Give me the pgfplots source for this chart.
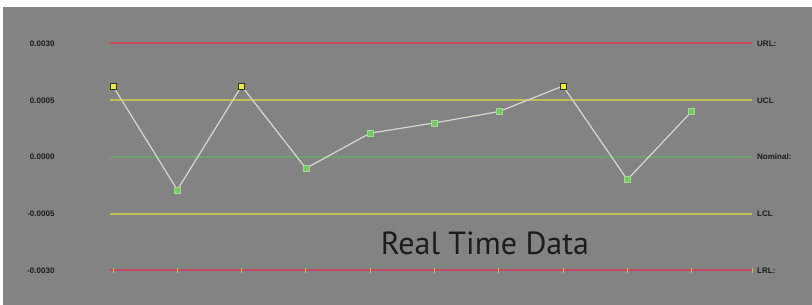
\documentclass[border=0pt]{standalone}
\usepackage{pgfplots}
\pgfplotsset{compat=1.18}
\usepackage{fontspec}
\setmainfont{Liberation Sans}
\newfontfamily\titlefont{PT Sans}
\definecolor{bg}{RGB}{131,131,131}
\definecolor{lim}{RGB}{200,75,95}
\definecolor{ctl}{RGB}{190,190,85}
\definecolor{nom}{RGB}{110,160,110}
\definecolor{ln}{RGB}{215,215,210}
\definecolor{gmark}{RGB}{120,200,100}
\definecolor{ymark}{RGB}{230,240,60}
\definecolor{mborder}{RGB}{50,50,20}
\definecolor{txt}{RGB}{28,28,28}
\begin{document}
\begin{tikzpicture}[x=1pt,y=1pt]
\useasboundingbox (0,0) rectangle (812,305);
\fill[white] (0,0) rectangle (812,305);
\fill[bg] (3,0) rectangle (812,298);
\begin{axis}[
  at={(110pt,11.8pt)}, anchor=south west,
  scale only axis, width=642pt, height=272.4pt,
  xmin=-0.047, xmax=9.94, ymin=-0.0012, ymax=0.0012,
  axis line style={draw=none},
  xtick=\empty,
  ytick={-0.001,-0.0005,0,0.0005,0.001},
  yticklabels={-0.0030,-0.0005,0.0000,0.0005,0.0030},
  major tick length=0pt,
  yticklabel style={font=\fontsize{8}{9}\selectfont\bfseries, text=txt, anchor=east, xshift=-52pt},
  clip=false,
  scaled y ticks=false,
]
% limit lines
\addplot[lim, line width=2pt] coordinates {(-0.047,0.001) (9.94,0.001)};
\addplot[lim, line width=2pt] coordinates {(-0.047,-0.001) (9.94,-0.001)};
\addplot[ctl, line width=1.6pt] coordinates {(-0.047,0.0005) (9.94,0.0005)};
\addplot[ctl, line width=1.6pt] coordinates {(-0.047,-0.0005) (9.94,-0.0005)};
\addplot[nom, line width=1.3pt] coordinates {(-0.047,0) (9.94,0)};
% small ticks on LRL
\addplot[only marks, mark=|, mark size=2.5pt, mark options={draw=ctl, line width=0.8pt}]
  coordinates {(0,-0.001) (1,-0.001) (2,-0.001) (3,-0.001) (4,-0.001) (5,-0.001) (6,-0.001) (7,-0.001) (8,-0.001) (9,-0.001) (9.94,-0.001)};
% data line
\addplot[ln, line width=1.2pt] coordinates {
 (0,0.000625) (1,-0.00029) (2,0.000625) (3,-0.0001) (4,0.00021)
 (5,0.0003) (6,0.0004) (7,0.000625) (8,-0.0002) (9,0.0004)};
\addplot[scatter, only marks, scatter src=explicit symbolic,
  scatter/classes={
    g={mark=square*, mark size=3pt, fill=gmark, draw=gmark!70!white},
    y={mark=square*, mark size=3pt, fill=ymark, draw=mborder, line width=0.9pt}}]
  table[meta=c] {
 x y c
 0 0.000625 y
 1 -0.00029 g
 2 0.000625 y
 3 -0.0001 g
 4 0.00021 g
 5 0.0003 g
 6 0.0004 g
 7 0.000625 y
 8 -0.0002 g
 9 0.0004 g
};
\node[anchor=west, font=\fontsize{8}{9}\selectfont\bfseries, text=txt, inner sep=0pt, xshift=5pt] at (axis cs:9.94,0.001) {URL:};
\node[anchor=west, font=\fontsize{8}{9}\selectfont\bfseries, text=txt, inner sep=0pt, xshift=5pt] at (axis cs:9.94,0.0005) {UCL};
\node[anchor=west, font=\fontsize{8}{9}\selectfont\bfseries, text=txt, inner sep=0pt, xshift=5pt] at (axis cs:9.94,0) {Nominal:};
\node[anchor=west, font=\fontsize{8}{9}\selectfont\bfseries, text=txt, inner sep=0pt, xshift=5pt] at (axis cs:9.94,-0.0005) {LCL};
\node[anchor=west, font=\fontsize{8}{9}\selectfont\bfseries, text=txt, inner sep=0pt, xshift=5pt] at (axis cs:9.94,-0.001) {LRL:};
\end{axis}
\node[anchor=base, inner sep=0pt, text=txt, font=\titlefont\fontsize{32}{34}\selectfont] at (485,50) {Real Time Data};
\end{tikzpicture}
\end{document}
